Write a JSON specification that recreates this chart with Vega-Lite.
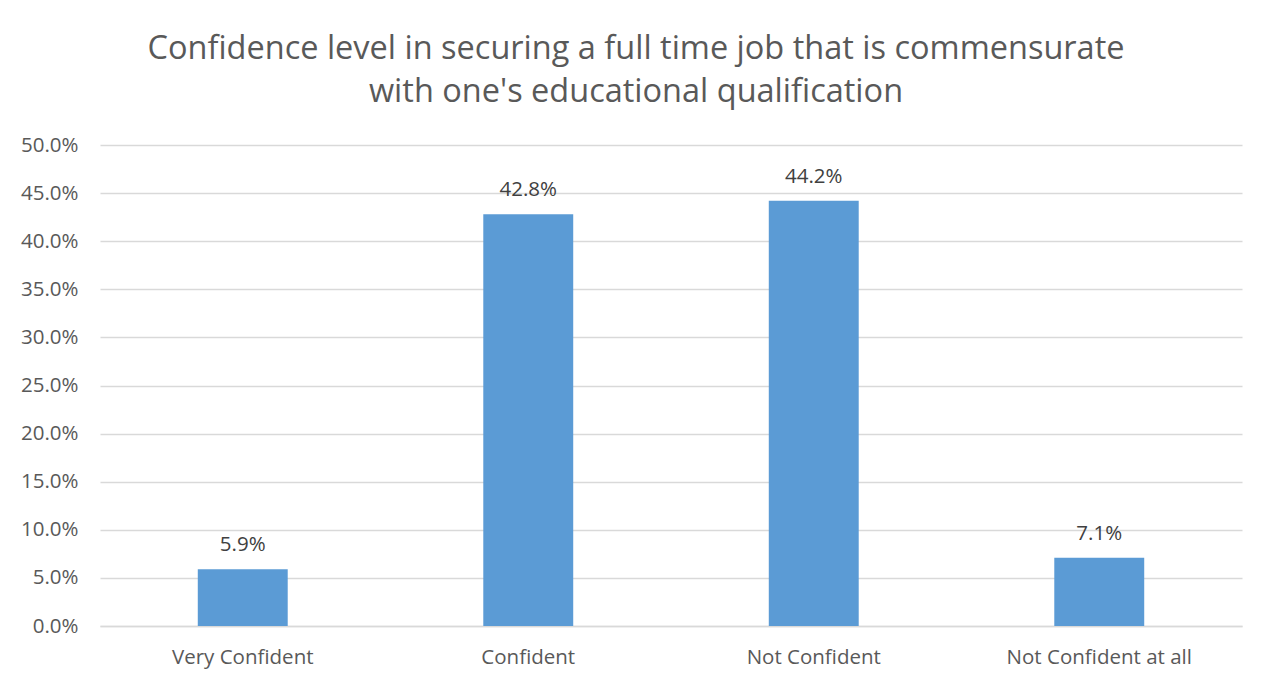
{
  "$schema": "https://vega.github.io/schema/vega-lite/v6.json",
  "width": 1142,
  "height": 481,
  "autosize": {"type": "none"},
  "padding": {"left": 100, "top": 145, "right": 30, "bottom": 60},
  "background": "white",
  "title": {
    "text": ["Confidence level in securing a full time job that is commensurate", "with one's educational qualification"],
    "font": "Open Sans",
    "fontSize": 32.5,
    "fontWeight": "normal",
    "color": "#595959",
    "anchor": "middle",
    "frame": "group",
    "dx": -35,
    "offset": 27,
    "lineHeight": 43
  },
  "data": {
    "values": [
      {"category": "Very Confident", "value": 0.059},
      {"category": "Confident", "value": 0.428},
      {"category": "Not Confident", "value": 0.442},
      {"category": "Not Confident at all", "value": 0.071}
    ]
  },
  "encoding": {
    "x": {
      "field": "category",
      "type": "nominal",
      "sort": null,
      "scale": {"paddingInner": 0.685, "paddingOuter": 0.3425},
      "axis": {
        "title": null,
        "labelAngle": 0,
        "labelLimit": 0,
        "labelFont": "Open Sans",
        "labelFontSize": 20.5,
        "labelColor": "#595959",
        "labelPadding": 21,
        "ticks": false,
        "domainColor": "#D9D9D9",
        "domainWidth": 1.5
      }
    },
    "y": {
      "field": "value",
      "type": "quantitative",
      "scale": {"domain": [0, 0.5]},
      "axis": {
        "title": null,
        "format": ".1%",
        "values": [0, 0.05, 0.1, 0.15, 0.2, 0.25, 0.3, 0.35, 0.4, 0.45, 0.5],
        "labelFont": "Open Sans",
        "labelFontSize": 20.5,
        "labelColor": "#595959",
        "labelPadding": 22,
        "ticks": false,
        "domain": false,
        "gridColor": "#D9D9D9",
        "gridWidth": 1.5
      }
    }
  },
  "layer": [
    {"mark": {"type": "bar", "color": "#5B9BD5"}},
    {
      "mark": {"type": "text", "dy": -24, "font": "Open Sans", "fontSize": 20.5, "color": "#404040"},
      "encoding": {"text": {"field": "value", "type": "quantitative", "format": ".1%"}}
    }
  ],
  "config": {"view": {"stroke": null}}
}
